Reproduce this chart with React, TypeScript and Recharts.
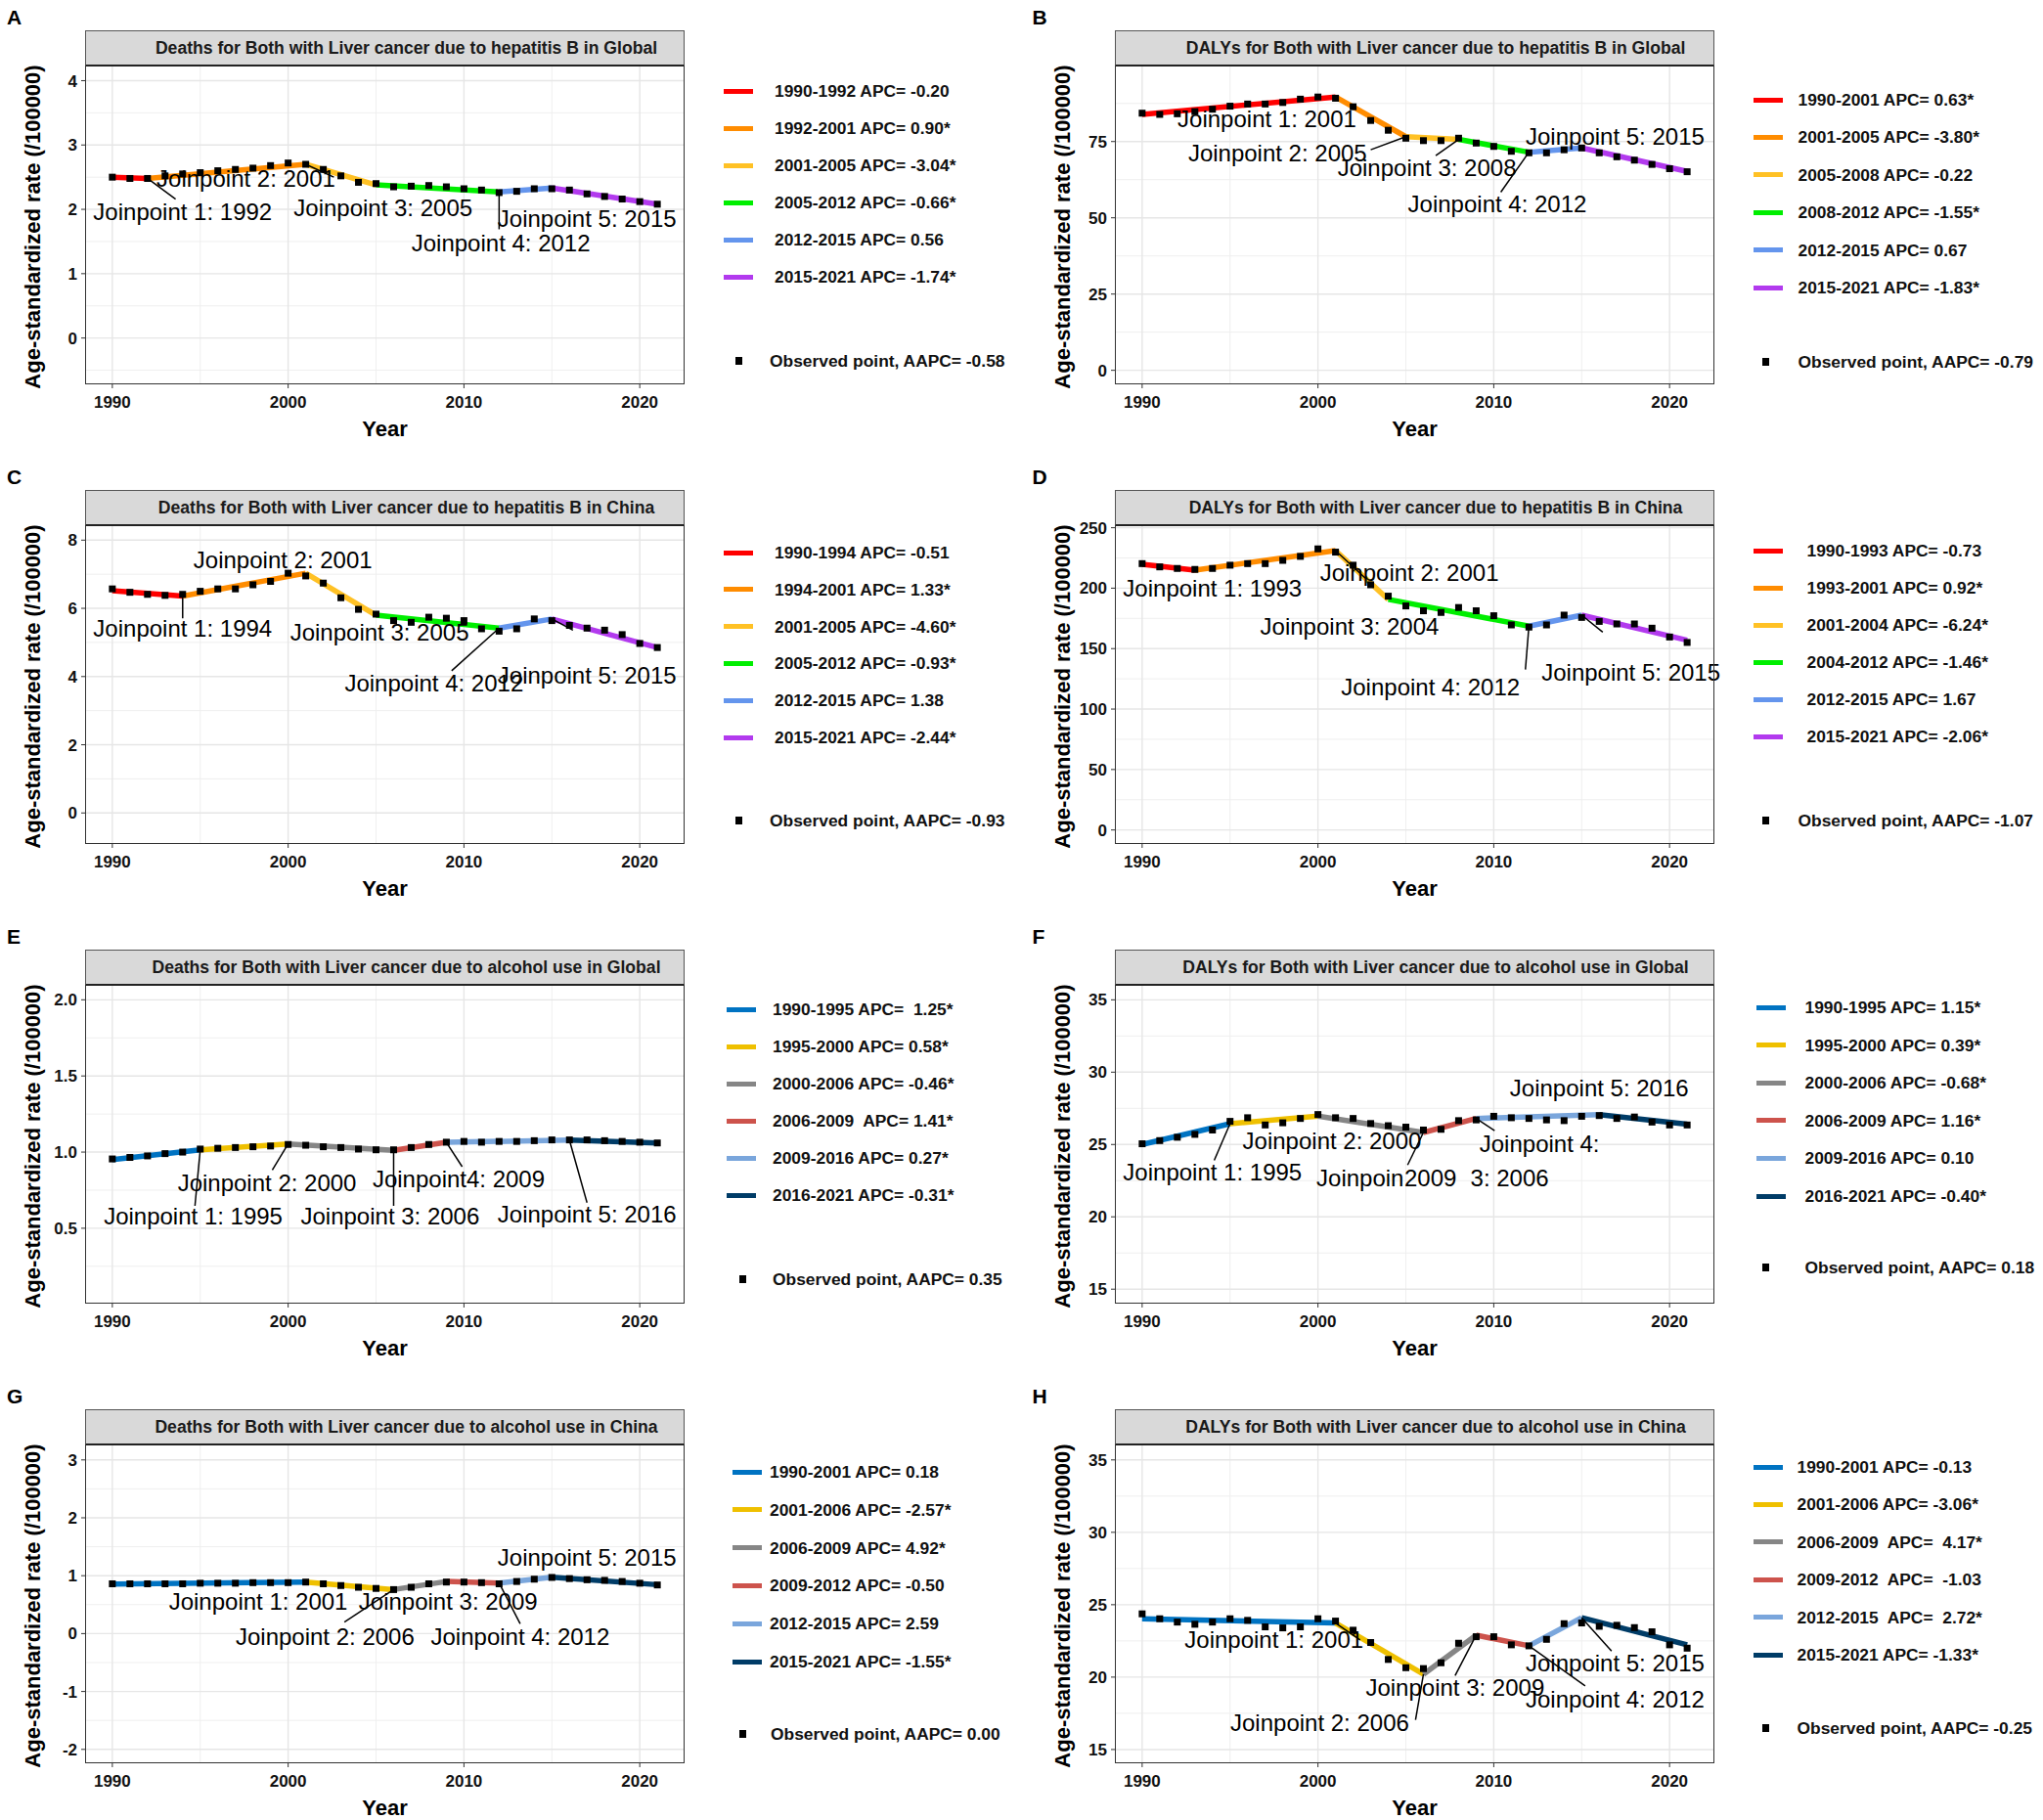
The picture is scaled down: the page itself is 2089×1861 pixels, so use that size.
import React from "react";
import {
  ComposedChart,
  Line,
  Scatter,
  XAxis,
  YAxis,
  CartesianGrid,
  ReferenceLine,
  Label,
} from "recharts";

const FONT = '"Liberation Sans", Arial, Helvetica, sans-serif';

// years of the observed series
const YEARS = [
  1990, 1991, 1992, 1993, 1994, 1995, 1996, 1997, 1998, 1999, 2000, 2001, 2002,
  2003, 2004, 2005, 2006, 2007, 2008, 2009, 2010, 2011, 2012, 2013, 2014, 2015,
  2016, 2017, 2018, 2019, 2020, 2021,
];

const X_TICKS = [1990, 2000, 2010, 2020];
const X_MINOR = [1995, 2005, 2015];

const HEP_COLORS = ["#FF0000", "#FF8C00", "#FFC125", "#00EE00", "#6495ED", "#B23AEE"];
const JCO_COLORS = ["#0073C2", "#EFC000", "#868686", "#CD534C", "#7AA6DC", "#003C67"];

// ---- A: deaths, hepatitis B, Global
const OBS_A = [
  2.5, 2.48, 2.48, 2.52, 2.55, 2.57, 2.6, 2.62, 2.64, 2.68, 2.72, 2.7, 2.62, 2.52,
  2.42, 2.4, 2.35, 2.36, 2.37, 2.35, 2.32, 2.3, 2.26, 2.28, 2.32, 2.32, 2.3, 2.24,
  2.2, 2.16, 2.12, 2.08,
];
const JP_YEARS_A = [1990, 1992, 2001, 2005, 2012, 2015, 2021];
const JP_FIT_A = [2.5, 2.48, 2.7, 2.38, 2.27, 2.33, 2.08];
const APC_A = [
  "1990-1992 APC= -0.20",
  "1992-2001 APC= 0.90*",
  "2001-2005 APC= -3.04*",
  "2005-2012 APC= -0.66*",
  "2012-2015 APC= 0.56",
  "2015-2021 APC= -1.74*",
];
const LABELS_A = [
  { text: "Joinpoint 1: 1992", year: 1994.0, value: 1.96 },
  { text: "Joinpoint 2: 2001", year: 1997.6, value: 2.48 },
  { text: "Joinpoint 3: 2005", year: 2005.4, value: 2.02 },
  { text: "Joinpoint 4: 2012", year: 2012.1, value: 1.48 },
  { text: "Joinpoint 5: 2015", year: 2017.0, value: 1.85 },
];
const LEADERS_A = [
  [1992, 2.48, 1993.6, 2.16],
  [2001, 2.7, 2002.6, 2.5],
  [2012, 2.27, 2012, 1.69],
];

// ---- B: DALYs, hepatitis B, Global
const OBS_B = [
  84.3, 83.9, 84.1, 84.8, 85.6, 86.6, 87.3, 87.3, 87.8, 88.9, 89.6, 89.2, 86.4,
  81.9, 78.7, 76.1, 75.3, 75.3, 76.1, 74.5, 73.4, 71.8, 71.3, 71.3, 72.3, 72.9,
  71.3, 70.0, 68.9, 67.5, 66.1, 65.1,
];
const JP_YEARS_B = [1990, 2001, 2005, 2008, 2012, 2015, 2021];
const JP_FIT_B = [83.9, 89.6, 76.6, 75.7, 71.5, 72.9, 65.2];
const APC_B = [
  "1990-2001 APC= 0.63*",
  "2001-2005 APC= -3.80*",
  "2005-2008 APC= -0.22",
  "2008-2012 APC= -1.55*",
  "2012-2015 APC= 0.67",
  "2015-2021 APC= -1.83*",
];
const LABELS_B = [
  { text: "Joinpoint 1: 2001", year: 1997.1, value: 82.5 },
  { text: "Joinpoint 2: 2005", year: 1997.7, value: 71.3 },
  { text: "Joinpoint 3: 2008", year: 2006.2, value: 66.5 },
  { text: "Joinpoint 4: 2012", year: 2010.2, value: 54.7 },
  { text: "Joinpoint 5: 2015", year: 2016.9, value: 76.8 },
];
const LEADERS_B = [
  [2005, 76.6, 2003.0, 72.3],
  [2008, 75.7, 2006.7, 70.4],
  [2012, 71.5, 2010.4, 58.4],
];

// ---- C: deaths, hepatitis B, China
const OBS_C = [
  6.57, 6.47, 6.41, 6.38, 6.41, 6.5, 6.57, 6.57, 6.69, 6.79, 7.03, 6.95, 6.74,
  6.31, 5.97, 5.83, 5.64, 5.59, 5.74, 5.71, 5.64, 5.4, 5.33, 5.4, 5.69, 5.64,
  5.5, 5.42, 5.36, 5.23, 4.97, 4.85,
];
const JP_YEARS_C = [1990, 1994, 2001, 2005, 2012, 2015, 2021];
const JP_FIT_C = [6.52, 6.36, 7.03, 5.8, 5.42, 5.69, 4.85];
const APC_C = [
  "1990-1994 APC= -0.51",
  "1994-2001 APC= 1.33*",
  "2001-2005 APC= -4.60*",
  "2005-2012 APC= -0.93*",
  "2012-2015 APC= 1.38",
  "2015-2021 APC= -2.44*",
];
const LABELS_C = [
  { text: "Joinpoint 1: 1994", year: 1994.0, value: 5.4 },
  { text: "Joinpoint 2: 2001", year: 1999.7, value: 7.41 },
  { text: "Joinpoint 3: 2005", year: 2005.2, value: 5.31 },
  { text: "Joinpoint 4: 2012", year: 2008.3, value: 3.8 },
  { text: "Joinpoint 5: 2015", year: 2017.0, value: 4.04 },
];
const LEADERS_C = [
  [1994, 6.36, 1994, 5.71],
  [2012, 5.42, 2009.3, 4.17],
  [2015, 5.69, 2016.2, 5.36],
];

// ---- D: DALYs, hepatitis B, China
const OBS_D = [
  220.3, 217.6, 216.3, 215.5, 216.3, 219.0, 220.3, 220.3, 223.0, 226.3, 232.5,
  229.8, 219.0, 202.8, 193.4, 185.3, 181.3, 179.9, 184.0, 181.3, 177.2, 169.6,
  167.8, 169.6, 177.7, 175.8, 172.5, 170.4, 170.4, 166.9, 159.6, 155.1,
];
const JP_YEARS_D = [1990, 1993, 2001, 2004, 2012, 2015, 2021];
const JP_FIT_D = [219.8, 214.9, 231.1, 190.7, 168.6, 177.7, 157.0];
const APC_D = [
  "1990-1993 APC= -0.73",
  "1993-2001 APC= 0.92*",
  "2001-2004 APC= -6.24*",
  "2004-2012 APC= -1.46*",
  "2012-2015 APC= 1.67",
  "2015-2021 APC= -2.06*",
];
const LABELS_D = [
  { text: "Joinpoint 1: 1993", year: 1994.0, value: 200.1 },
  { text: "Joinpoint 2: 2001", year: 2005.2, value: 212.8 },
  { text: "Joinpoint 3: 2004", year: 2001.8, value: 168.3 },
  { text: "Joinpoint 4: 2012", year: 2006.4, value: 118.4 },
  { text: "Joinpoint 5: 2015", year: 2017.8, value: 130.0 },
];
const LEADERS_D = [
  [2001, 231.1, 2002.7, 208.2],
  [2012, 168.6, 2011.8, 132.7],
  [2015, 177.7, 2016.2, 163.7],
];

// ---- E: deaths, alcohol, Global
const OBS_E = [
  0.955, 0.965, 0.975, 0.99, 1.0, 1.02, 1.025, 1.03, 1.035, 1.04, 1.05, 1.045,
  1.035, 1.03, 1.02, 1.015, 1.015, 1.03, 1.05, 1.065, 1.07, 1.065, 1.07, 1.07,
  1.075, 1.08, 1.08, 1.08, 1.075, 1.07, 1.065, 1.06,
];
const JP_YEARS_E = [1990, 1995, 2000, 2006, 2009, 2016, 2021];
const JP_FIT_E = [0.951, 1.015, 1.054, 1.011, 1.064, 1.079, 1.06];
const APC_E = [
  "1990-1995 APC=  1.25*",
  "1995-2000 APC= 0.58*",
  "2000-2006 APC= -0.46*",
  "2006-2009  APC= 1.41*",
  "2009-2016 APC= 0.27*",
  "2016-2021 APC= -0.31*",
];
const LABELS_E = [
  { text: "Joinpoint 1: 1995", year: 1994.6, value: 0.578 },
  { text: "Joinpoint 2: 2000", year: 1998.8, value: 0.797 },
  { text: "Joinpoint 3: 2006", year: 2005.8, value: 0.578 },
  { text: "Joinpoint4: 2009", year: 2009.7, value: 0.822 },
  { text: "Joinpoint 5: 2016", year: 2017.0, value: 0.593 },
];
const LEADERS_E = [
  [1995, 1.015, 1994.7, 0.647],
  [2000, 1.054, 1999.1, 0.882],
  [2006, 1.011, 2006, 0.647],
  [2009, 1.064, 2009.9, 0.904],
  [2016, 1.079, 2017.0, 0.668],
];

// ---- F: DALYs, alcohol, Global
const OBS_F = [
  25.05, 25.27, 25.5, 25.7, 26.0, 26.6, 26.85, 26.35, 26.5, 26.8, 27.07, 26.85,
  26.8, 26.45, 26.3, 26.2, 26.0, 26.05, 26.65, 26.7, 26.95, 26.85, 26.8, 26.7,
  26.65, 26.95, 27.0, 26.8, 26.9, 26.55, 26.35, 26.35,
];
const JP_YEARS_F = [1990, 1995, 2000, 2006, 2009, 2016, 2021];
const JP_FIT_F = [25.0, 26.44, 26.96, 25.83, 26.8, 27.07, 26.4];
const APC_F = [
  "1990-1995 APC= 1.15*",
  "1995-2000 APC= 0.39*",
  "2000-2006 APC= -0.68*",
  "2006-2009 APC= 1.16*",
  "2009-2016 APC= 0.10",
  "2016-2021 APC= -0.40*",
];
const LABELS_F = [
  { text: "Joinpoint 1: 1995", year: 1994.0, value: 23.06 },
  { text: "Joinpoint 2: 2000", year: 2000.8, value: 25.27 },
  { text: "Joinpoin", year: 2002.4, value: 22.68 },
  { text: "2009", year: 2006.4, value: 22.68 },
  { text: "3: 2006", year: 2010.9, value: 22.68 },
  { text: "Joinpoint 4:", year: 2012.6, value: 25.05 },
  { text: "Joinpoint 5: 2016", year: 2016.0, value: 28.9 },
];
const LEADERS_F = [
  [1995, 26.44, 1994.1, 23.9],
  [2006, 25.83, 2005.1, 23.58],
  [2009, 26.8, 2010.05, 25.95],
];

// ---- G: deaths, alcohol, China
const OBS_G = [
  0.86, 0.86, 0.86, 0.86, 0.86, 0.87, 0.87, 0.87, 0.88, 0.88, 0.88, 0.89, 0.86,
  0.83, 0.8, 0.78, 0.76, 0.8, 0.86, 0.89, 0.89, 0.88, 0.86, 0.9, 0.94, 0.97,
  0.95, 0.93, 0.92, 0.9, 0.87, 0.84,
];
const JP_YEARS_G = [1990, 2001, 2006, 2009, 2012, 2015, 2021];
const JP_FIT_G = [0.856, 0.89, 0.76, 0.9, 0.873, 0.975, 0.845];
const APC_G = [
  "1990-2001 APC= 0.18",
  "2001-2006 APC= -2.57*",
  "2006-2009 APC= 4.92*",
  "2009-2012 APC= -0.50",
  "2012-2015 APC= 2.59",
  "2015-2021 APC= -1.55*",
];
const LABELS_G = [
  { text: "Joinpoint 1: 2001", year: 1998.3, value: 0.563 },
  { text: "Joinpoint 2: 2006", year: 2002.1, value: -0.056 },
  { text: "Joinpoint 3: 2009", year: 2009.1, value: 0.563 },
  { text: "Joinpoint 4: 2012", year: 2013.2, value: -0.056 },
  { text: "Joinpoint 5: 2015", year: 2017.0, value: 1.32 },
];
const LEADERS_G = [
  [2006, 0.76, 2003.2, 0.197],
  [2012, 0.873, 2013.2, 0.17],
];

// ---- H: DALYs, alcohol, China
const OBS_H = [
  24.37, 24.03, 23.8, 23.65, 23.8, 24.03, 23.92, 23.47, 23.4, 23.47, 24.03, 23.87,
  23.24, 22.39, 21.22, 20.65, 20.59, 20.99, 22.34, 22.79, 22.79, 22.23, 22.16,
  22.61, 23.69, 23.74, 23.51, 23.58, 23.42, 23.13, 22.23, 22.0,
];
const JP_YEARS_H = [1990, 2001, 2006, 2009, 2012, 2015, 2021];
const JP_FIT_H = [24.03, 23.74, 20.2, 22.9, 22.16, 24.1, 22.23];
const APC_H = [
  "1990-2001 APC= -0.13",
  "2001-2006 APC= -3.06*",
  "2006-2009  APC=  4.17*",
  "2009-2012  APC=  -1.03",
  "2012-2015  APC=  2.72*",
  "2015-2021 APC= -1.33*",
];
const LABELS_H = [
  { text: "Joinpoint 1: 2001", year: 1997.5, value: 22.57 },
  { text: "Joinpoint 2: 2006", year: 2000.1, value: 16.82 },
  { text: "Joinpoint 3: 2009", year: 2007.8, value: 19.3 },
  { text: "Joinpoint 4: 2012", year: 2016.9, value: 18.5 },
  { text: "Joinpoint 5: 2015", year: 2016.9, value: 21.0 },
];
const LEADERS_H = [
  [2001, 23.74, 2002.4, 22.57],
  [2006, 20.2, 2005.55, 17.05],
  [2009, 22.9, 2007.8, 20.1],
  [2012, 22.16, 2015.2, 19.4],
  [2015, 24.1, 2016.7, 21.8],
];

interface PanelDef {
  letter: string;
  title: string;
  col: number;
  row: number;
  obs: number[];
  jpYears: number[];
  jpFit: number[];
  apc: string[];
  aapc: string;
  colors: string[];
  labels: { text: string; year: number; value: number }[];
  leaders: number[][];
  domain: [number, number];
  ticks: number[];
  minor: number[];
  decimals: number;
  legend: { line: number; text: number; sq: number; obsText: number; top: number; gap: number; obsY: number };
}

const PANELS: PanelDef[] = [
  {
    letter: "A", title: "Deaths for Both with Liver cancer due to hepatitis B in Global", col: 0, row: 0,
    obs: OBS_A, jpYears: JP_YEARS_A, jpFit: JP_FIT_A, apc: APC_A, aapc: "Observed point, AAPC= -0.58",
    colors: HEP_COLORS, labels: LABELS_A, leaders: LEADERS_A,
    domain: [-0.72, 4.22], ticks: [0, 1, 2, 3, 4], minor: [-0.5, 0.5, 1.5, 2.5, 3.5], decimals: 0,
    legend: { line: 740, text: 792, sq: 755, obsText: 787, top: 93, gap: 38, obsY: 369 },
  },
  {
    letter: "B", title: "DALYs for Both with Liver cancer due to hepatitis B in Global", col: 1, row: 0,
    obs: OBS_B, jpYears: JP_YEARS_B, jpFit: JP_FIT_B, apc: APC_B, aapc: "Observed point, AAPC= -0.79",
    colors: HEP_COLORS, labels: LABELS_B, leaders: LEADERS_B,
    domain: [-4.6, 99.6], ticks: [0, 25, 50, 75], minor: [12.5, 37.5, 62.5, 87.5], decimals: 0,
    legend: { line: 740, text: 786, sq: 753, obsText: 786, top: 102, gap: 38.4, obsY: 370 },
  },
  {
    letter: "C", title: "Deaths for Both with Liver cancer due to hepatitis B in China", col: 0, row: 1,
    obs: OBS_C, jpYears: JP_YEARS_C, jpFit: JP_FIT_C, apc: APC_C, aapc: "Observed point, AAPC= -0.93",
    colors: HEP_COLORS, labels: LABELS_C, leaders: LEADERS_C,
    domain: [-0.91, 8.41], ticks: [0, 2, 4, 6, 8], minor: [1, 3, 5, 7], decimals: 0,
    legend: { line: 740, text: 792, sq: 755, obsText: 787, top: 95, gap: 37.8, obsY: 369 },
  },
  {
    letter: "D", title: "DALYs for Both with Liver cancer due to hepatitis B in China", col: 1, row: 1,
    obs: OBS_D, jpYears: JP_YEARS_D, jpFit: JP_FIT_D, apc: APC_D, aapc: "Observed point, AAPC= -1.07",
    colors: HEP_COLORS, labels: LABELS_D, leaders: LEADERS_D,
    domain: [-11.6, 251.3], ticks: [0, 50, 100, 150, 200, 250], minor: [25, 75, 125, 175, 225], decimals: 0,
    legend: { line: 740, text: 795, sq: 753, obsText: 786, top: 93, gap: 38, obsY: 369 },
  },
  {
    letter: "E", title: "Deaths for Both with Liver cancer due to alcohol use in Global", col: 0, row: 2,
    obs: OBS_E, jpYears: JP_YEARS_E, jpFit: JP_FIT_E, apc: APC_E, aapc: "Observed point, AAPC= 0.35",
    colors: JCO_COLORS, labels: LABELS_E, leaders: LEADERS_E,
    domain: [0.005, 2.092], ticks: [0.5, 1.0, 1.5, 2.0], minor: [0.25, 0.75, 1.25, 1.75], decimals: 1,
    legend: { line: 743, text: 790, sq: 759, obsText: 790, top: 92, gap: 38, obsY: 368 },
  },
  {
    letter: "F", title: "DALYs for Both with Liver cancer due to alcohol use in Global", col: 1, row: 2,
    obs: OBS_F, jpYears: JP_YEARS_F, jpFit: JP_FIT_F, apc: APC_F, aapc: "Observed point, AAPC= 0.18",
    colors: JCO_COLORS, labels: LABELS_F, leaders: LEADERS_F,
    domain: [14.0, 35.97], ticks: [15, 20, 25, 30, 35], minor: [17.5, 22.5, 27.5, 32.5], decimals: 0,
    legend: { line: 743, text: 793, sq: 753, obsText: 793, top: 90, gap: 38.6, obsY: 356 },
  },
  {
    letter: "G", title: "Deaths for Both with Liver cancer due to alcohol use in China", col: 0, row: 3,
    obs: OBS_G, jpYears: JP_YEARS_G, jpFit: JP_FIT_G, apc: APC_G, aapc: "Observed point, AAPC= 0.00",
    colors: JCO_COLORS, labels: LABELS_G, leaders: LEADERS_G,
    domain: [-2.24, 3.25], ticks: [-2, -1, 0, 1, 2, 3], minor: [-1.5, -0.5, 0.5, 1.5, 2.5], decimals: 0,
    legend: { line: 749, text: 787, sq: 759, obsText: 788, top: 95, gap: 38.8, obsY: 363 },
  },
  {
    letter: "H", title: "DALYs for Both with Liver cancer due to alcohol use in China", col: 1, row: 3,
    obs: OBS_H, jpYears: JP_YEARS_H, jpFit: JP_FIT_H, apc: APC_H, aapc: "Observed point, AAPC= -0.25",
    colors: JCO_COLORS, labels: LABELS_H, leaders: LEADERS_H,
    domain: [14.05, 36.0], ticks: [15, 20, 25, 30, 35], minor: [17.5, 22.5, 27.5, 32.5], decimals: 0,
    legend: { line: 740, text: 785, sq: 753, obsText: 785, top: 90, gap: 38.4, obsY: 357 },
  },
];

const PLOT_LEFT = 87;
const PLOT_RIGHT = 700;
const PLOT_TOP = 68;
const PLOT_BOTTOM = 393;
const Y_AXIS_W = 70;
const X_AXIS_H = 60;
const CHART_W = 735;
const CHART_H = 470;

const renderObserved = (props: any) => {
  const { cx, cy, index } = props;
  if (cx == null || cy == null) return <g key={`obs-${index}`} />;
  return <rect key={`obs-${index}`} x={cx - 3.5} y={cy - 3.5} width={7} height={7} fill="#000" />;
};

const JoinpointLabel = (props: any) => {
  const { cx, cy, payload } = props;
  if (cx == null || cy == null) return null;
  return (
    <text x={cx} y={cy} textAnchor="middle" dominantBaseline="central" fontSize={24} fontFamily={FONT} fill="#000">
      {payload.text}
    </text>
  );
};

const renderYTitle = (props: any) => {
  const vb = props.viewBox || {};
  const cy = vb.y + vb.height / 2 + 1.5;
  const cx = 33;
  return (
    <text x={cx} y={cy} transform={`rotate(-90 ${cx} ${cy})`} textAnchor="middle" dominantBaseline="central"
      fontSize={22} fontWeight={700} fontFamily={FONT} fill="#000">
      Age-standardized rate (/100000)
    </text>
  );
};

const renderXTitle = (props: any) => {
  const vb = props.viewBox || {};
  return (
    <text x={vb.x + vb.width / 2} y={vb.y + 53} textAnchor="middle" fontSize={22} fontWeight={700} fontFamily={FONT} fill="#000">
      Year
    </text>
  );
};

function Panel({ p }: { p: PanelDef }) {
  const left = p.col === 0 ? 0 : 1052.5;
  const top = p.row * 470;
  const obsData = YEARS.map((year, i) => ({ year, value: p.obs[i] }));
  const segments = p.jpYears.slice(0, -1).map((y0, i) => ({
    name: p.apc[i],
    color: p.colors[i],
    data: [
      { year: y0, value: p.jpFit[i] },
      { year: p.jpYears[i + 1], value: p.jpFit[i + 1] },
    ],
  }));
  const tickStyle = { fill: "#111", fontSize: 17, fontWeight: 700, fontFamily: FONT };
  const plotW = PLOT_RIGHT - PLOT_LEFT;
  const legendText = { position: "absolute" as const, lineHeight: "20px", fontSize: 17.4, fontWeight: 700, whiteSpace: "pre" as const, color: "#111" };

  return (
    <div style={{ position: "absolute", left, top, width: 1037, height: 470, fontFamily: FONT }}>
      <div style={{ position: "absolute", left: p.col === 0 ? 7 : 3, top: 7, fontSize: 21, fontWeight: 700, lineHeight: "21px" }}>
        {p.letter}
      </div>
      <div
        style={{
          position: "absolute", left: PLOT_LEFT, top: 31, width: plotW, height: 37, boxSizing: "border-box",
          background: "#D9D9D9", border: "1px solid #555", borderBottom: "2.5px solid #222",
        }}
      >
        <div style={{ position: "absolute", left: 44, right: 0, top: 0, bottom: 0, display: "flex", alignItems: "center", justifyContent: "center", fontSize: 17.6, fontWeight: 700, color: "#1a1a1a", whiteSpace: "nowrap" }}>
          {p.title}
        </div>
      </div>
      <div style={{ position: "absolute", left: 0, top: 0 }}>
        <ComposedChart
          width={CHART_W}
          height={CHART_H}
          margin={{ top: PLOT_TOP, right: CHART_W - PLOT_RIGHT, bottom: CHART_H - PLOT_BOTTOM - X_AXIS_H, left: PLOT_LEFT - Y_AXIS_W }}
        >
          <CartesianGrid horizontalValues={p.minor} verticalValues={X_MINOR} stroke="#EFEFEF" strokeWidth={1} />
          <CartesianGrid horizontalValues={p.ticks} verticalValues={X_TICKS} stroke="#E6E6E6" strokeWidth={1.4} />
          <XAxis
            type="number" dataKey="year" domain={[1988.45, 2022.55]} ticks={X_TICKS} interval={0}
            axisLine={false} tickLine={{ stroke: "#333" }} tickSize={4} tickMargin={8} height={X_AXIS_H} tick={tickStyle}
          >
            <Label content={renderXTitle} />
          </XAxis>
          <YAxis
            type="number" dataKey="value" domain={p.domain} ticks={p.ticks} interval={0}
            axisLine={false} tickLine={{ stroke: "#333" }} tickSize={4} tickMargin={4} width={Y_AXIS_W} tick={tickStyle}
            tickFormatter={(v: number) => v.toFixed(p.decimals)}
          >
            <Label content={renderYTitle} />
          </YAxis>
          {/* observed points first so the fitted segments sit on top */}
          <Line
            name={p.aapc} data={obsData} dataKey="value" stroke="none" strokeWidth={0}
            dot={renderObserved} activeDot={false} isAnimationActive={false}
          />
          {segments.map((s, i) => (
            <Line
              key={`seg-${i}`} name={s.name} data={s.data} dataKey="value" stroke={s.color} strokeWidth={5.5}
              dot={false} activeDot={false} isAnimationActive={false}
            />
          ))}
          {p.leaders.map((l, i) => (
            <ReferenceLine
              key={`lead-${i}`} segment={[{ x: l[0], y: l[1] }, { x: l[2], y: l[3] }]}
              stroke="#000" strokeWidth={1.5} ifOverflow="visible"
            />
          ))}
          <Scatter data={p.labels} shape={JoinpointLabel} isAnimationActive={false} />
        </ComposedChart>
      </div>
      <div
        style={{
          position: "absolute", left: PLOT_LEFT, top: PLOT_TOP, width: plotW, height: PLOT_BOTTOM - PLOT_TOP,
          boxSizing: "border-box", borderLeft: "1px solid #333", borderRight: "1px solid #333", borderBottom: "1px solid #333",
          pointerEvents: "none",
        }}
      />
      {segments.map((s, i) => {
        const cy = p.legend.top + i * p.legend.gap;
        return (
          <React.Fragment key={`leg-${i}`}>
            <div style={{ position: "absolute", left: p.legend.line, top: cy - 2.5, width: 30, height: 5, background: s.color }} />
            <div style={{ ...legendText, left: p.legend.text, top: cy - 10 }}>{s.name}</div>
          </React.Fragment>
        );
      })}
      <div style={{ position: "absolute", left: p.legend.sq - 3.5, top: p.legend.obsY - 4, width: 7, height: 8, background: "#000" }} />
      <div style={{ ...legendText, left: p.legend.obsText, top: p.legend.obsY - 10 }}>{p.aapc}</div>
    </div>
  );
}

export default function App() {
  return (
    <div style={{ position: "absolute", left: 0, top: 0, width: 2089, height: 1861, background: "#fff", overflow: "hidden" }}>
      {PANELS.map((p) => (
        <Panel key={p.letter} p={p} />
      ))}
    </div>
  );
}
